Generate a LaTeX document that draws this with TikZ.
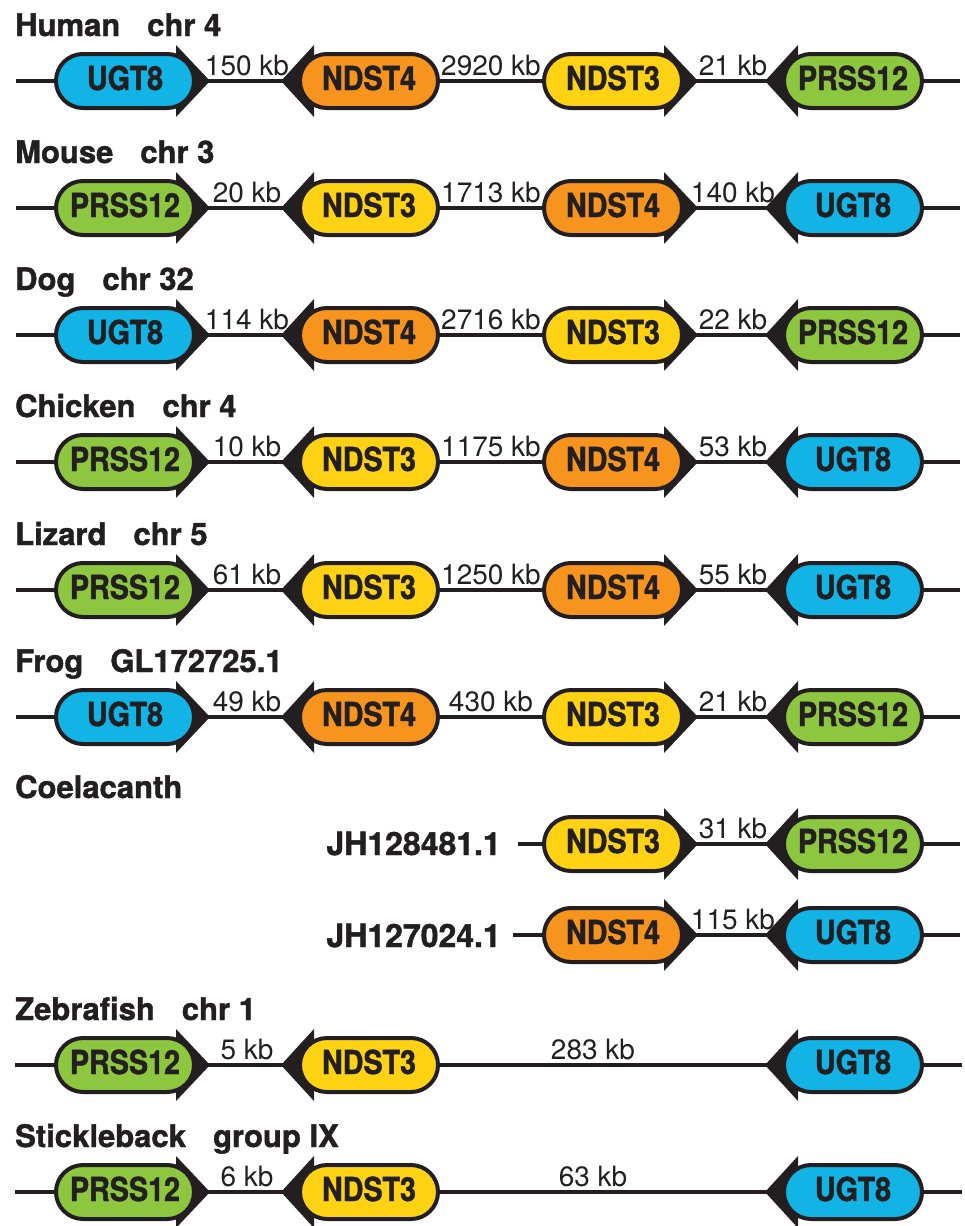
\documentclass[tikz,border=0pt]{standalone}
\usepackage{fontspec}
\setmainfont{TeX Gyre Heros}
\newfontfamily\genefont{TeX Gyre Heros}[FakeStretch=0.87, BoldFeatures={FakeBold=1.3}]
\newfontfamily\heavyfont{TeX Gyre Heros}[BoldFeatures={FakeBold=1.3}]
\usetikzlibrary{shapes.misc,backgrounds,calc}

\definecolor{ink}{HTML}{231F20}
\definecolor{cUGT}{HTML}{12B4E6}
\definecolor{cNDfour}{HTML}{F7941D}
\definecolor{cNDthree}{HTML}{FFD314}
\definecolor{cPRSS}{HTML}{8DC63F}

\tikzset{
  genebox/.style={rounded rectangle, draw=ink, line width=4pt,
    minimum width=138pt, minimum height=54pt, inner sep=0pt, outer sep=0pt,
    text=ink, font=\genefont\bfseries\fontsize{33}{36}\selectfont,
    text height=23pt, text depth=5pt},
  chrom/.style={draw=ink, line width=3.6pt},
  barb/.style={fill=ink},
  dist/.style={anchor=base, text=ink, inner sep=0pt,
    font=\fontsize{28}{32}\selectfont},
  title/.style={anchor=base west, text=ink, inner sep=0pt,
    font=\heavyfont\bfseries\fontsize{31}{36}\selectfont},
  contig/.style={anchor=base east, text=ink, inner sep=0pt,
    font=\heavyfont\bfseries\fontsize{32}{36}\selectfont},
}

% gene pointing right: name, x, y, colour, label
\newcommand\geneR[5]{%
  \node[genebox, fill=#4] (#1) at (#2,#3) {#5};
  \begin{pgfonlayer}{background}
    \fill[barb] ([xshift=-18pt,yshift=36pt]#1.east) -- ([xshift=16pt]#1.east)
      -- ([xshift=-18pt,yshift=-36pt]#1.east) -- cycle;
  \end{pgfonlayer}}
% gene pointing left: name, x, y, colour, label
\newcommand\geneL[5]{%
  \node[genebox, fill=#4] (#1) at (#2,#3) {#5};
  \begin{pgfonlayer}{background}
    \fill[barb] ([xshift=14pt,yshift=36pt]#1.west) -- ([xshift=-19pt]#1.west)
      -- ([xshift=14pt,yshift=-36pt]#1.west) -- cycle;
  \end{pgfonlayer}}
\newcommand\titlegap{\hspace{27pt}}

\begin{document}
\begin{tikzpicture}[x=1pt, y=-1pt]
\useasboundingbox (0,0) rectangle (964,1226);

% ---------- Human ----------
\node[title] (t1) at (15,36) {Human\titlegap chr 4};
\geneR{r1a}{125}{81}{cUGT}{UGT8}
\geneL{r1b}{369}{81}{cNDfour}{NDST4}
\geneR{r1c}{613}{81}{cNDthree}{NDST3}
\geneL{r1d}{853}{81}{cPRSS}{PRSS12}
\coordinate (r1s) at (16,81); \coordinate (r1e) at (960,81);
\begin{pgfonlayer}{background}
\draw[chrom] (r1s) -- (r1a.west) (r1a.east) -- (r1b.west) (r1b.east) -- (r1c.west)
  (r1c.east) -- (r1d.west) (r1d.east) -- (r1e);
\end{pgfonlayer}
\node[dist] (r1x) at ($(r1a.east)!0.5!(r1b.west)+(0,-6)$) {150 kb};
\node[dist] (r1y) at ($(r1b.east)!0.5!(r1c.west)+(0,-6)$) {2920 kb};
\node[dist] (r1z) at ($(r1c.east)!0.5!(r1d.west)+(0,-6)$) {21 kb};

% ---------- Mouse ----------
\node[title] (t2) at (15,163) {Mouse\titlegap chr 3};
\geneR{r2a}{125}{208}{cPRSS}{PRSS12}
\geneL{r2b}{369}{208}{cNDthree}{NDST3}
\geneR{r2c}{613}{208}{cNDfour}{NDST4}
\geneL{r2d}{853}{208}{cUGT}{UGT8}
\coordinate (r2s) at (16,208); \coordinate (r2e) at (960,208);
\begin{pgfonlayer}{background}
\draw[chrom] (r2s) -- (r2a.west) (r2a.east) -- (r2b.west) (r2b.east) -- (r2c.west)
  (r2c.east) -- (r2d.west) (r2d.east) -- (r2e);
\end{pgfonlayer}
\node[dist] (r2x) at ($(r2a.east)!0.5!(r2b.west)+(0,-6)$) {20 kb};
\node[dist] (r2y) at ($(r2b.east)!0.5!(r2c.west)+(0,-6)$) {1713 kb};
\node[dist] (r2z) at ($(r2c.east)!0.5!(r2d.west)+(0,-6)$) {140 kb};

% ---------- Dog ----------
\node[title] (t3) at (15,290) {Dog\titlegap chr 32};
\geneR{r3a}{125}{335}{cUGT}{UGT8}
\geneL{r3b}{369}{335}{cNDfour}{NDST4}
\geneR{r3c}{613}{335}{cNDthree}{NDST3}
\geneL{r3d}{853}{335}{cPRSS}{PRSS12}
\coordinate (r3s) at (16,335); \coordinate (r3e) at (960,335);
\begin{pgfonlayer}{background}
\draw[chrom] (r3s) -- (r3a.west) (r3a.east) -- (r3b.west) (r3b.east) -- (r3c.west)
  (r3c.east) -- (r3d.west) (r3d.east) -- (r3e);
\end{pgfonlayer}
\node[dist] (r3x) at ($(r3a.east)!0.5!(r3b.west)+(0,-6)$) {114 kb};
\node[dist] (r3y) at ($(r3b.east)!0.5!(r3c.west)+(0,-6)$) {2716 kb};
\node[dist] (r3z) at ($(r3c.east)!0.5!(r3d.west)+(0,-6)$) {22 kb};

% ---------- Chicken ----------
\node[title] (t4) at (15,417) {Chicken\titlegap chr 4};
\geneR{r4a}{125}{462}{cPRSS}{PRSS12}
\geneL{r4b}{369}{462}{cNDthree}{NDST3}
\geneR{r4c}{613}{462}{cNDfour}{NDST4}
\geneL{r4d}{853}{462}{cUGT}{UGT8}
\coordinate (r4s) at (16,462); \coordinate (r4e) at (960,462);
\begin{pgfonlayer}{background}
\draw[chrom] (r4s) -- (r4a.west) (r4a.east) -- (r4b.west) (r4b.east) -- (r4c.west)
  (r4c.east) -- (r4d.west) (r4d.east) -- (r4e);
\end{pgfonlayer}
\node[dist] (r4x) at ($(r4a.east)!0.5!(r4b.west)+(0,-6)$) {10 kb};
\node[dist] (r4y) at ($(r4b.east)!0.5!(r4c.west)+(0,-6)$) {1175 kb};
\node[dist] (r4z) at ($(r4c.east)!0.5!(r4d.west)+(0,-6)$) {53 kb};

% ---------- Lizard ----------
\node[title] (t5) at (15,545) {Lizard\titlegap chr 5};
\geneR{r5a}{125}{590}{cPRSS}{PRSS12}
\geneL{r5b}{369}{590}{cNDthree}{NDST3}
\geneR{r5c}{613}{590}{cNDfour}{NDST4}
\geneL{r5d}{853}{590}{cUGT}{UGT8}
\coordinate (r5s) at (16,590); \coordinate (r5e) at (960,590);
\begin{pgfonlayer}{background}
\draw[chrom] (r5s) -- (r5a.west) (r5a.east) -- (r5b.west) (r5b.east) -- (r5c.west)
  (r5c.east) -- (r5d.west) (r5d.east) -- (r5e);
\end{pgfonlayer}
\node[dist] (r5x) at ($(r5a.east)!0.5!(r5b.west)+(0,-6)$) {61 kb};
\node[dist] (r5y) at ($(r5b.east)!0.5!(r5c.west)+(0,-6)$) {1250 kb};
\node[dist] (r5z) at ($(r5c.east)!0.5!(r5d.west)+(0,-6)$) {55 kb};

% ---------- Frog ----------
\node[title] (t6) at (15,672) {Frog\titlegap GL172725.1};
\geneR{r6a}{125}{717}{cUGT}{UGT8}
\geneL{r6b}{369}{717}{cNDfour}{NDST4}
\geneR{r6c}{613}{717}{cNDthree}{NDST3}
\geneL{r6d}{853}{717}{cPRSS}{PRSS12}
\coordinate (r6s) at (16,717); \coordinate (r6e) at (960,717);
\begin{pgfonlayer}{background}
\draw[chrom] (r6s) -- (r6a.west) (r6a.east) -- (r6b.west) (r6b.east) -- (r6c.west)
  (r6c.east) -- (r6d.west) (r6d.east) -- (r6e);
\end{pgfonlayer}
\node[dist] (r6x) at ($(r6a.east)!0.5!(r6b.west)+(0,-6)$) {49 kb};
\node[dist] (r6y) at ($(r6b.east)!0.5!(r6c.west)+(0,-6)$) {430 kb};
\node[dist] (r6z) at ($(r6c.east)!0.5!(r6d.west)+(0,-6)$) {21 kb};

% ---------- Coelacanth ----------
\node[title] (t7) at (15,798) {Coelacanth};
\node[contig] (c1) at (501,855) {JH128481.1};
\geneR{c1c}{613}{844}{cNDthree}{NDST3}
\geneL{c1d}{853}{844}{cPRSS}{PRSS12}
\coordinate (c1s) at (518,844); \coordinate (c1e) at (960,844);
\begin{pgfonlayer}{background}
\draw[chrom] (c1s) -- (c1c.west) (c1c.east) -- (c1d.west) (c1d.east) -- (c1e);
\end{pgfonlayer}
\node[dist] (c1z) at ($(c1c.east)!0.5!(c1d.west)+(0,-6)$) {31 kb};

\node[contig] (c2) at (501,947) {JH127024.1};
\geneR{c2c}{613}{935}{cNDfour}{NDST4}
\geneL{c2d}{853}{935}{cUGT}{UGT8}
\coordinate (c2s) at (513,935); \coordinate (c2e) at (960,935);
\begin{pgfonlayer}{background}
\draw[chrom] (c2s) -- (c2c.west) (c2c.east) -- (c2d.west) (c2d.east) -- (c2e);
\end{pgfonlayer}
\node[dist] (c2z) at ($(c2c.east)!0.5!(c2d.west)+(0,-6)$) {115 kb};

% ---------- Zebrafish ----------
\node[title] (t8) at (15,1020) {Zebrafish\titlegap chr 1};
\geneR{z1a}{125}{1065}{cPRSS}{PRSS12}
\geneL{z1b}{369}{1065}{cNDthree}{NDST3}
\geneL{z1d}{853}{1065}{cUGT}{UGT8}
\coordinate (z1s) at (15,1065); \coordinate (z1e) at (962,1065);
\begin{pgfonlayer}{background}
\draw[chrom] (z1s) -- (z1a.west) (z1a.east) -- (z1b.west) (z1b.east) -- (z1d.west)
  (z1d.east) -- (z1e);
\end{pgfonlayer}
\node[dist] (z1x) at ($(z1a.east)!0.5!(z1b.west)+(0,-6)$) {5 kb};
\node[dist] (z1y) at (593,1059) {283 kb};

% ---------- Stickleback ----------
\node[title] (t9) at (15,1147) {Stickleback\titlegap group IX};
\geneR{s1a}{125}{1192}{cPRSS}{PRSS12}
\geneL{s1b}{369}{1192}{cNDthree}{NDST3}
\geneL{s1d}{853}{1192}{cUGT}{UGT8}
\coordinate (s1s) at (15,1192); \coordinate (s1e) at (962,1192);
\begin{pgfonlayer}{background}
\draw[chrom] (s1s) -- (s1a.west) (s1a.east) -- (s1b.west) (s1b.east) -- (s1d.west)
  (s1d.east) -- (s1e);
\end{pgfonlayer}
\node[dist] (s1x) at ($(s1a.east)!0.5!(s1b.west)+(0,-6)$) {6 kb};
\node[dist] (s1y) at (593,1186) {63 kb};
\end{tikzpicture}
\end{document}
